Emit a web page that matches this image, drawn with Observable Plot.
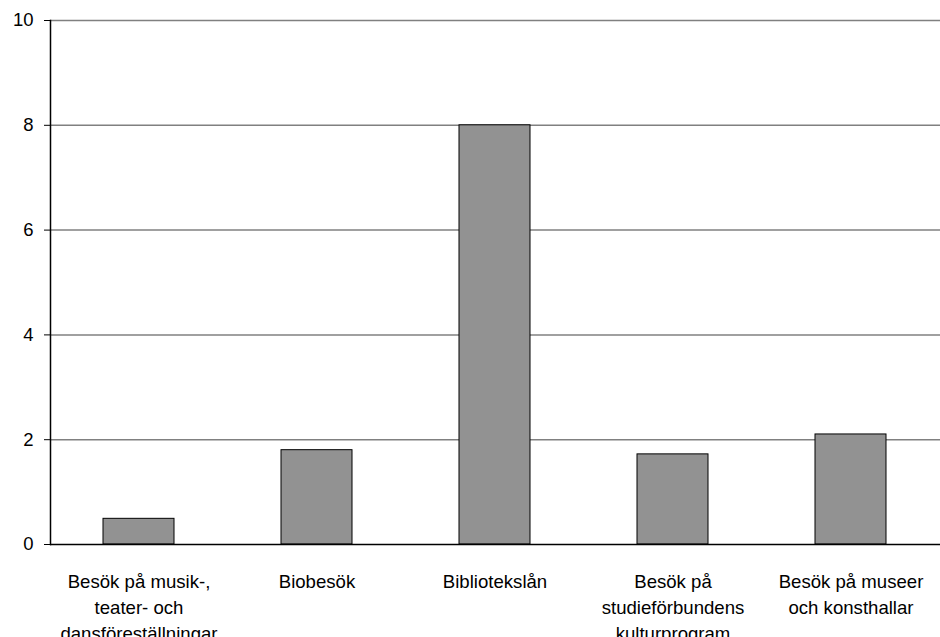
<!DOCTYPE html>
<html>
<head>
<meta charset="utf-8">
<script src="https://cdn.jsdelivr.net/npm/d3@7"></script>
<script src="https://cdn.jsdelivr.net/npm/@observablehq/plot@0.6"></script>
<style>
  html, body { margin: 0; padding: 0; background: #fff; }
  #chart svg { display: block; }
</style>
</head>
<body>
<div id="chart"></div>
<script>
const categories = [
  "Besök på musik-,\nteater- och\ndansföreställningar",
  "Biobesök",
  "Bibliotekslån",
  "Besök på\nstudieförbundens\nkulturprogram",
  "Besök på museer\noch konsthallar"
];
const values = [0.49, 1.8, 8.0, 1.72, 2.1];
const yTicks = [0, 2, 4, 6, 8, 10];

const data = categories.map((c, i) => ({category: c, value: values[i]}));

const chart = Plot.plot({
  width: 940,
  height: 637,
  marginLeft: 50,
  marginRight: 0,
  marginTop: 20,
  marginBottom: 93,
  style: {fontFamily: "Liberation Sans, Arial, sans-serif", fontSize: "18px", color: "#000", background: "#fff"},
  x: {domain: categories, paddingInner: 0.6, paddingOuter: 0.3, label: null},
  y: {domain: [0, 10], label: null},
  marks: [
    Plot.ruleY(yTicks.filter(d => d > 0), {stroke: "#808080", strokeWidth: 1.5, strokeOpacity: 1}),
    Plot.barY(data, {x: "category", y: "value", fill: "#929292", stroke: "#000", strokeWidth: 1}),
    Plot.ruleY([0], {stroke: "#000", strokeWidth: 1.5}),
    Plot.axisY({ticks: yTicks, tickSize: 6, tickPadding: 11, stroke: "#000", fill: "#000", fontSize: 18.5, label: null}),
    Plot.frame({anchor: "left", stroke: "#000", strokeWidth: 1.5}),
    Plot.axisX({tickSize: 0, tickPadding: 25, fontSize: 18.6, lineHeight: 1.4, fill: "#000", label: null})
  ]
});
document.getElementById("chart").appendChild(chart);
</script>
</body>
</html>
